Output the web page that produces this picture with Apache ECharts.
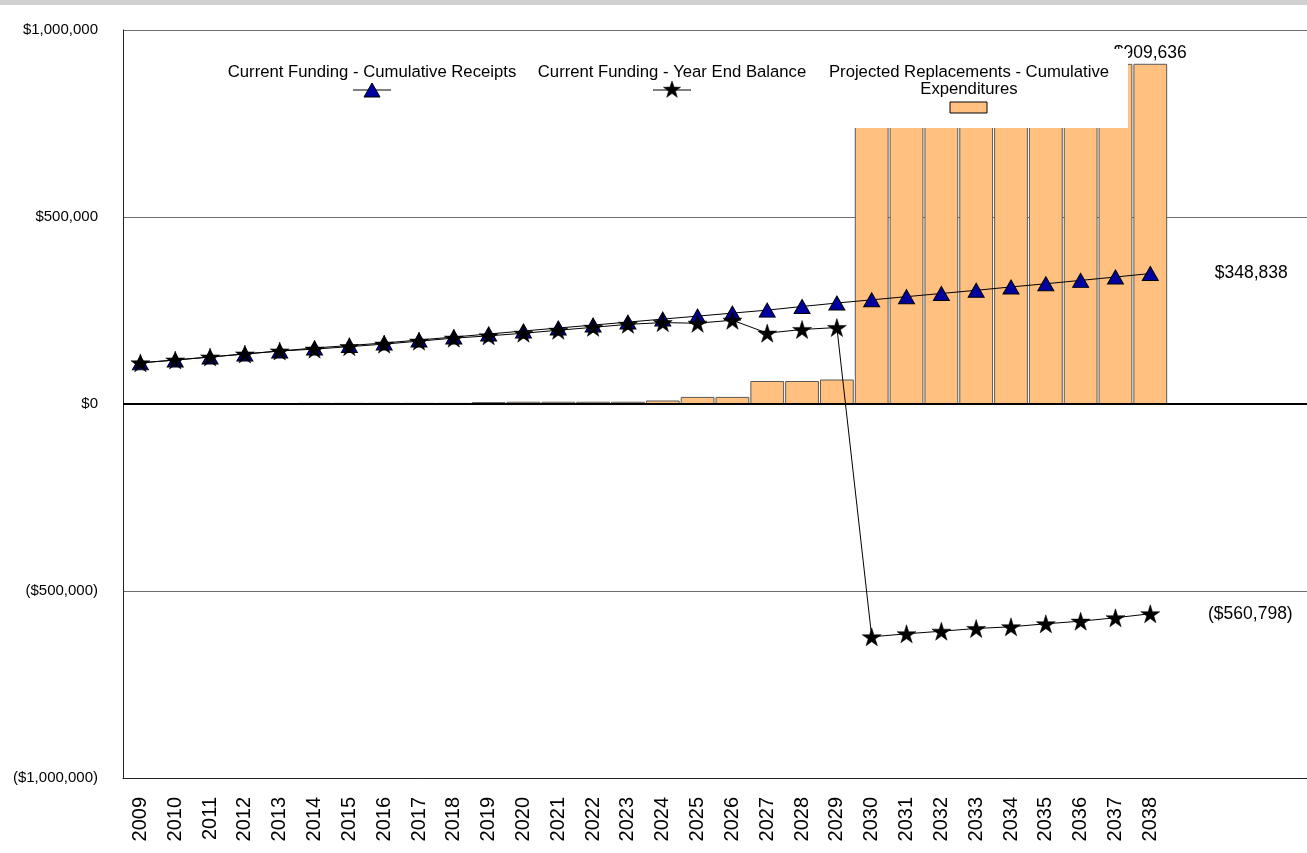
<!DOCTYPE html>
<html>
<head>
<meta charset="utf-8">
<script src="https://cdn.jsdelivr.net/npm/echarts@6/dist/echarts.min.js"></script>
<style>
  html, body { margin: 0; padding: 0; background: #fff; }
  #chart { width: 1307px; height: 853px; }
</style>
</head>
<body>
<div id="chart"></div>
<script>
// Funding years, plus four blank slots that leave room for the end labels
const years = ['2009','2010','2011','2012','2013','2014','2015','2016','2017','2018',
  '2019','2020','2021','2022','2023','2024','2025','2026','2027','2028',
  '2029','2030','2031','2032','2033','2034','2035','2036','2037','2038'];
const blankSlots = ['', '', '', ''];

// Current Funding - Cumulative Receipts
const cumulativeReceipts = [110000, 117600, 125700, 133700, 141700, 149700, 156400, 163100, 171100, 179100,
  187200, 195200, 203200, 211000, 219000, 227000, 235000, 243000, 251000, 260700,
  270000, 278500, 287000, 295500, 304000, 313000, 321500, 330500, 339500, 348838];

// Current Funding - Year End Balance
const yearEndBalance = [110000, 117600, 125700, 133700, 141700, 146700, 153400, 160100, 168100, 176100,
  182200, 189200, 197200, 205000, 213000, 217600, 216000, 224000, 189500, 199200,
  204500, -622500, -614400, -607500, -600300, -595700, -587700, -580700, -571600, -560798];

// Projected Replacements - Cumulative Expenditures
const cumulativeExpenditures = [0, 0, 0, 0, 0, 3000, 3000, 3000, 3000, 3000,
  5000, 6000, 6000, 6000, 6000, 9400, 19000, 19000, 61500, 61500,
  65500, 901000, 901400, 903000, 904300, 908700, 909000, 909300, 909500, 909636];

const legendNames = ['Current Funding - Cumulative Receipts', 'Current Funding - Year End Balance',
  'Projected Replacements - Cumulative\nExpenditures'];

const FONT = '"Liberation Sans", Arial, sans-serif';
const BAR_FILL = '#FFC080';
const TRIANGLE_FILL = '#0000A0';
const STAR_PATH = 'path://M50,0 L61,35 L98,35 L68,57 L79,91 L50,70 L21,91 L32,57 L2,35 L39,35 Z';

function money(v) {
  const s = '$' + Math.abs(v).toLocaleString('en-US');
  return v < 0 ? '(' + s + ')' : s;
}

// Put a value label on the last point of a series
function withEndLabel(values, label) {
  return values.map((v, i) => i === values.length - 1
    ? { value: v, label: Object.assign({ show: true, formatter: () => money(v), fontSize: 17.5, color: '#000', fontFamily: FONT }, label) }
    : v);
}

// Five-pointed star outline used for the legend sample
function starPoints(cx, cy, r) {
  const pts = [];
  for (let i = 0; i < 10; i++) {
    const rad = i % 2 === 0 ? r : r * 0.4;
    const a = -Math.PI / 2 + i * Math.PI / 5;
    pts.push([cx + rad * Math.cos(a), cy + rad * Math.sin(a)]);
  }
  return pts;
}

const chart = echarts.init(document.getElementById('chart'), null, { renderer: 'canvas' });

const legendText = (text, x, y) => ({
  type: 'text', x, y, z: 101,
  style: { text, font: '16.7px ' + FONT, fill: '#000', textAlign: 'center', textVerticalAlign: 'middle', lineHeight: 17 }
});

chart.setOption({
  animation: false,
  backgroundColor: '#fff',
  grid: { left: 123, right: 0, top: 30, bottom: 75, containLabel: false },
  xAxis: {
    type: 'category',
    data: years.concat(blankSlots),
    boundaryGap: true,
    axisLine: { onZero: false, lineStyle: { color: '#222', width: 1 } },
    axisTick: { show: false },
    splitLine: { show: false },
    axisLabel: { interval: 0, rotate: 90, margin: 19, fontSize: 20, color: '#000', fontFamily: FONT }
  },
  yAxis: {
    type: 'value',
    min: -1000000,
    max: 1000000,
    interval: 500000,
    axisLine: { show: true, lineStyle: { color: '#222', width: 1 } },
    axisTick: { show: false },
    splitLine: { show: true, lineStyle: { color: '#6e6e6e', width: 1 } },
    axisLabel: { margin: 25, fontSize: 15, color: '#000', fontFamily: FONT, formatter: money }
  },
  series: [
    {
      name: legendNames[2],
      type: 'bar',
      data: withEndLabel(cumulativeExpenditures, { position: 'top', distance: 2 }),
      barCategoryGap: '3%',
      itemStyle: { color: BAR_FILL, borderColor: '#5a5a5a', borderWidth: 1 },
      z: 2,
      markLine: {
        silent: true,
        symbol: 'none',
        label: { show: false },
        lineStyle: { color: '#000', width: 2, type: 'solid' },
        data: [{ yAxis: 0 }]
      }
    },
    {
      name: legendNames[0],
      type: 'line',
      data: withEndLabel(cumulativeReceipts, { position: 'right', distance: 56 }),
      symbol: 'triangle',
      symbolSize: [16, 14],
      itemStyle: { color: TRIANGLE_FILL, borderColor: '#000', borderWidth: 1 },
      lineStyle: { color: '#000', width: 1 },
      z: 3
    },
    {
      name: legendNames[1],
      type: 'line',
      data: withEndLabel(yearEndBalance, { position: 'right', distance: 48 }),
      symbol: STAR_PATH,
      symbolSize: 19,
      symbolKeepAspect: true,
      itemStyle: { color: '#000', borderColor: '#000', borderWidth: 0.5 },
      lineStyle: { color: '#000', width: 1 },
      z: 4
    }
  ],
  graphic: [
    // thin grey band across the top of the page
    { type: 'rect', shape: { x: 0, y: 0, width: 1307, height: 5 }, style: { fill: '#d0d0d0' }, z: 100 },
    // legend panel with a white fill laid over the plot area
    { type: 'rect', shape: { x: 215, y: 49, width: 913, height: 79 }, style: { fill: '#fff' }, z: 100 },
    legendText(legendNames[0], 372, 72),
    { type: 'line', shape: { x1: 353, y1: 90, x2: 391, y2: 90 }, style: { stroke: '#000', lineWidth: 1 }, z: 101 },
    { type: 'polygon', shape: { points: [[372, 83], [380, 97], [364, 97]] }, style: { fill: TRIANGLE_FILL, stroke: '#000', lineWidth: 1 }, z: 102 },
    legendText(legendNames[1], 672, 72),
    { type: 'line', shape: { x1: 653, y1: 90, x2: 691, y2: 90 }, style: { stroke: '#000', lineWidth: 1 }, z: 101 },
    { type: 'polygon', shape: { points: starPoints(672, 90, 9) }, style: { fill: '#000', stroke: '#000', lineWidth: 0.5 }, z: 102 },
    legendText(legendNames[2], 969, 80.5),
    { type: 'rect', shape: { x: 950, y: 102, width: 37, height: 11 }, style: { fill: BAR_FILL, stroke: '#000', lineWidth: 1 }, z: 101 }
  ]
});
</script>
</body>
</html>
